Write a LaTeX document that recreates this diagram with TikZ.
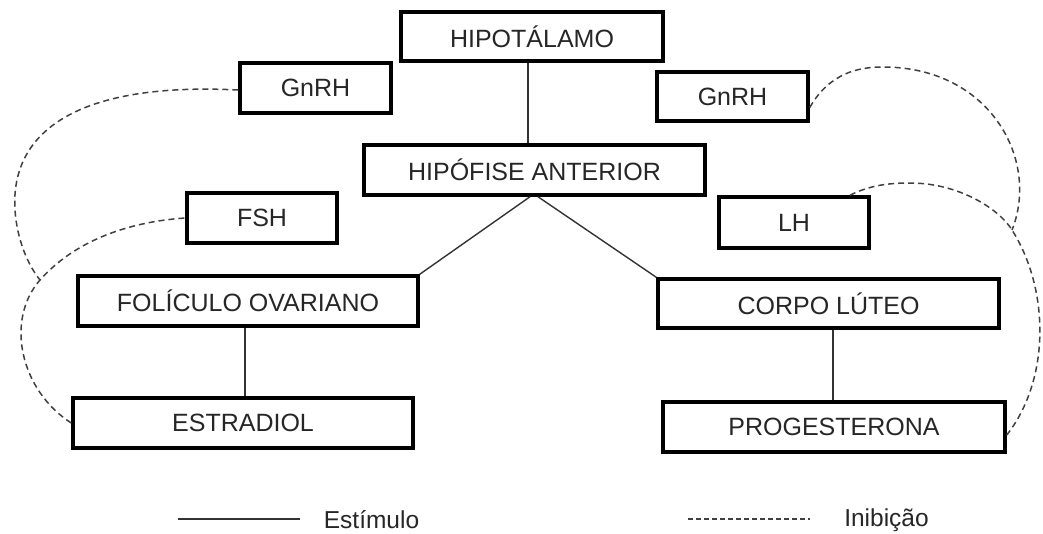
\documentclass[tikz,border=0pt]{standalone}
\usepackage{fontspec}
\setmainfont{Liberation Sans}
\begin{document}
\begin{tikzpicture}[x=1pt,y=-1pt,
  box/.style={draw=black, line width=3.5pt, rectangle, inner sep=0pt, font=\fontsize{25}{29}\selectfont, text=black!85},
  stim/.style={draw=black!80, line width=1.4pt},
  inib/.style={draw=black!75, line width=1.5pt, dash pattern=on 6pt off 4pt},
  lbl/.style={font=\fontsize{24.5}{29}\selectfont, text=black!85, inner sep=0pt}]
\useasboundingbox (0,0) rectangle (1043,533);
% boxes
\node[box, minimum width=262pt, minimum height=49pt] (hipot) at (532,36.5) {HIPOTÁLAMO};
\node[box, minimum width=341pt, minimum height=50pt] (hipof) at (534.5,170) {HIPÓFISE ANTERIOR};
\node[box, minimum width=151pt, minimum height=50pt] (gnrhL) at (315.5,88) {GnRH};
\node[box, minimum width=151pt, minimum height=49pt] (gnrhR) at (732.5,96.5) {GnRH};
\node[box, minimum width=150pt, minimum height=50pt] (fsh) at (262,218) {FSH};
\node[box, minimum width=150pt, minimum height=51pt] (lh) at (794,222.5) {LH};
\node[box, minimum width=340pt, minimum height=50pt] (fol) at (248,301) {FOLÍCULO OVARIANO};
\node[box, minimum width=341pt, minimum height=49pt] (corpo) at (828.5,303.5) {CORPO LÚTEO};
\node[box, minimum width=340pt, minimum height=50pt] (estr) at (243,423) {ESTRADIOL};
\node[box, minimum width=342pt, minimum height=50pt] (prog) at (834,427) {PROGESTERONA};
% stimulus connectors
\draw[stim] ([xshift=-4pt]hipot.south) -- ([xshift=-4pt]hipot.south |- hipof.north);
\draw[stim] ([xshift=-4.5pt]hipof.south) -- (fol.north east);
\draw[stim] ([xshift=3.5pt]hipof.south) -- (corpo.north west);
\draw[stim] ([xshift=-3pt]fol.south) -- ([xshift=-3pt]fol.south |- estr.north);
\draw[stim] ([xshift=4.5pt]corpo.south) -- ([xshift=4.5pt]corpo.south |- prog.north);
% inhibition curves
\coordinate (xl) at (40,280);
\coordinate (xr) at (1012,230);
\draw[inib] (estr.west) .. controls (20,390) and (5,320) .. (xl)
  .. controls (80,235) and (140,221) .. (fsh.west);
\draw[inib] ([yshift=-2pt]gnrhL.west) .. controls (80,82) and (10,130) .. (15,210)
  .. controls (17,240) and (28,265) .. (xl);
\draw[inib] ([yshift=-11pt]gnrhR.east) .. controls (830,72) and (860,67) .. (883,67)
  .. controls (990,67) and (1040,160) .. (xr);
\draw[inib] ([xshift=56pt]lh.north) .. controls (870,185) and (890,183) .. (910,183)
  .. controls (960,183) and (1000,210) .. (xr)
  .. controls (1050,290) and (1050,380) .. ([yshift=-8pt]prog.east);
% legend
\coordinate (s1) at (178,519);
\coordinate (s2) at (300,519);
\coordinate (d1) at (688,519);
\coordinate (d2) at (810,519);
\draw[draw=black!80, line width=1.2pt] (s1) -- (s2);
\draw[draw=black!75, line width=1.2pt, dash pattern=on 5pt off 3pt] (d1) -- (d2);
\node[lbl] (lstim) at (371.5,520) {Estímulo};
\node[lbl] (linib) at (886.5,520) {Inibição};
\end{tikzpicture}
\end{document}
